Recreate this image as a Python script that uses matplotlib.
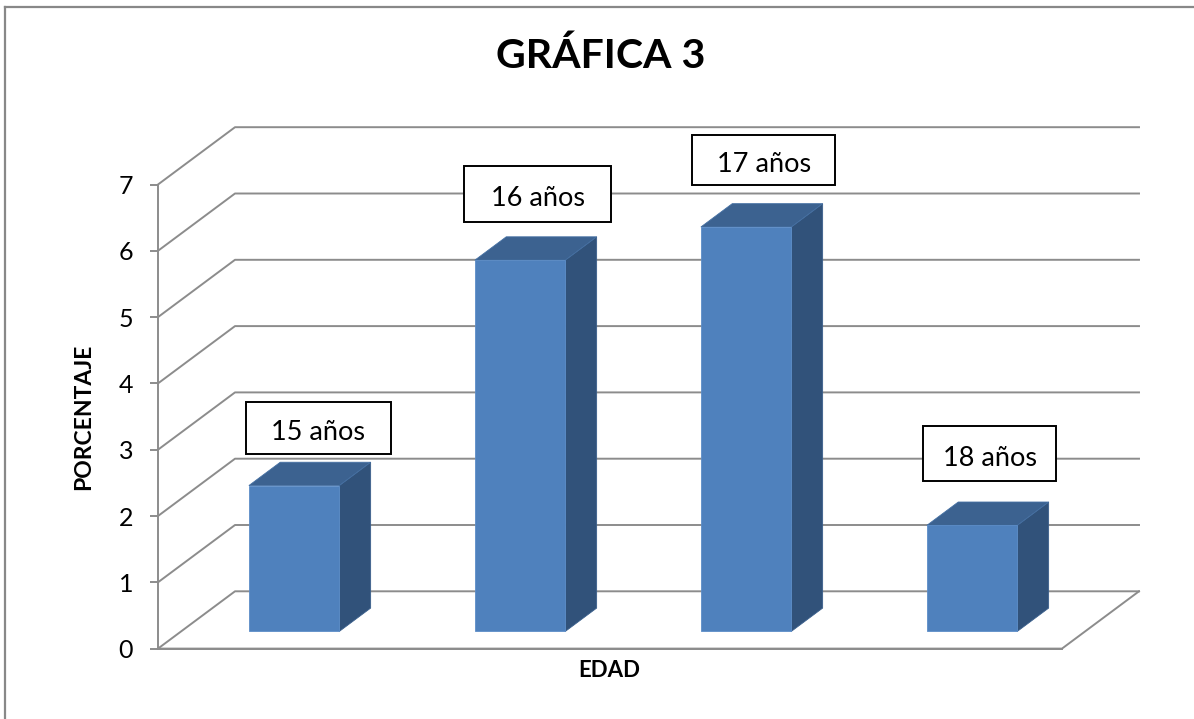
import matplotlib
matplotlib.use('Agg')
import matplotlib.pyplot as plt
from matplotlib.patches import Polygon, Rectangle
from matplotlib.lines import Line2D

# datos
edades = ['15 años', '16 años', '17 años', '18 años']
valores = [2.2, 5.6, 6.1, 1.6]
yticks = [0, 1, 2, 3, 4, 5, 6, 7]

# posicion de las etiquetas (centro de la caja, unidades de datos)
etiqueta_pos = [(0.71, 3.33), (1.68, 6.86), (2.68, 7.37), (3.68, 2.94)]
etiqueta_tam = [(0.64, 0.79), (0.65, 0.84), (0.63, 0.74), (0.59, 0.83)]

plt.rcParams['font.family'] = ['Lato', 'DejaVu Sans']

W, H = 1194, 719
fig = plt.figure(figsize=(W / 100, H / 100), dpi=100)
fig.patch.set_facecolor('white')

# area del grafico en pixeles
left, right, y0, y7 = 158, 1062, 648.6, 184.5
ax = fig.add_axes([left / W, (H - y0) / H, (right - left) / W, (y0 - y7) / H])
ax.set_xlim(0, 4)
ax.set_ylim(0, 7)
ax.patch.set_alpha(0)

GRIS = '#8C8C8C'
DX = 77 / 226.0      # desplazamiento en profundidad (categorias)
DY = 57.3 / 66.3     # desplazamiento en profundidad (valores)


def proj(x, y, z):
    return x + z * DX, y + z * DY


# lineas de cuadricula (pared lateral + pared del fondo)
for v in yticks:
    pts = [proj(0, v, 0), proj(0, v, 1), proj(4, v, 1)]
    ax.add_line(Line2D([p[0] for p in pts], [p[1] for p in pts], color=GRIS,
                       lw=1.4, clip_on=False, zorder=1))

# suelo
pts = [proj(0, 0, 0), proj(4, 0, 0), proj(4, 0, 1)]
ax.add_line(Line2D([p[0] for p in pts], [p[1] for p in pts], color=GRIS,
                   lw=1.4, clip_on=False, zorder=1))

# barras 3D
ancho = 0.4
z0, z1 = 0.3, 0.707
for i, v in enumerate(valores):
    x0 = i + 0.5 - ancho / 2
    x1 = i + 0.5 + ancho / 2
    frente = [proj(x0, 0, z0), proj(x1, 0, z0), proj(x1, v, z0), proj(x0, v, z0)]
    lado = [proj(x1, 0, z0), proj(x1, 0, z1), proj(x1, v, z1), proj(x1, v, z0)]
    arriba = [proj(x0, v, z0), proj(x1, v, z0), proj(x1, v, z1), proj(x0, v, z1)]
    ax.add_patch(Polygon(lado, closed=True, facecolor='#31527A', edgecolor='#3A5F8C',
                         lw=0.6, clip_on=False, zorder=3))
    ax.add_patch(Polygon(arriba, closed=True, facecolor='#3C6290', edgecolor='#4570A3',
                         lw=0.6, clip_on=False, zorder=3))
    ax.add_patch(Polygon(frente, closed=True, facecolor='#4F81BD', edgecolor='#5C8DC8',
                         lw=0.6, clip_on=False, zorder=4))

# etiquetas en cajas
for txt, (cx, cy), (bw, bh) in zip(edades, etiqueta_pos, etiqueta_tam):
    ax.add_patch(Rectangle((cx - bw / 2, cy - bh / 2), bw, bh, facecolor='white',
                           edgecolor='black', lw=1.4, clip_on=False, zorder=6))
    ax.text(cx, cy - 0.07, txt, ha='center', va='center', fontsize=19.5,
            color='black', zorder=7, clip_on=False)

# ejes
for s in ['top', 'right']:
    ax.spines[s].set_visible(False)
ax.spines['left'].set_color(GRIS)
ax.spines['left'].set_linewidth(1.4)
ax.spines['bottom'].set_color(GRIS)
ax.spines['bottom'].set_linewidth(1.4)
ax.set_yticks(yticks)
ax.set_xticks([])
ax.tick_params(axis='y', length=6, width=1.4, color=GRIS, pad=12,
               labelsize=18, labelcolor='black')

# textos
fig.text(601 / W, 1 - 56 / H, 'GRÁFICA 3', ha='center', va='center',
         fontsize=29.5, fontweight='bold')
fig.text(84 / W, 1 - 417 / H, 'PORCENTAJE', ha='center', va='center',
         rotation=90, fontsize=16.5, fontweight='bold')
fig.text(609.5 / W, 1 - 670.5 / H, 'EDAD', ha='center', va='center',
         fontsize=16, fontweight='bold')

# borde del area del grafico
fig.add_artist(Line2D([5 / W, 5 / W], [0, 1 - 7 / H], color='#888888', lw=1.6,
                      transform=fig.transFigure))
fig.add_artist(Line2D([5 / W, 1], [1 - 7 / H, 1 - 7 / H], color='#888888', lw=1.6,
                      transform=fig.transFigure))

fig.savefig('out.png', dpi=100)
